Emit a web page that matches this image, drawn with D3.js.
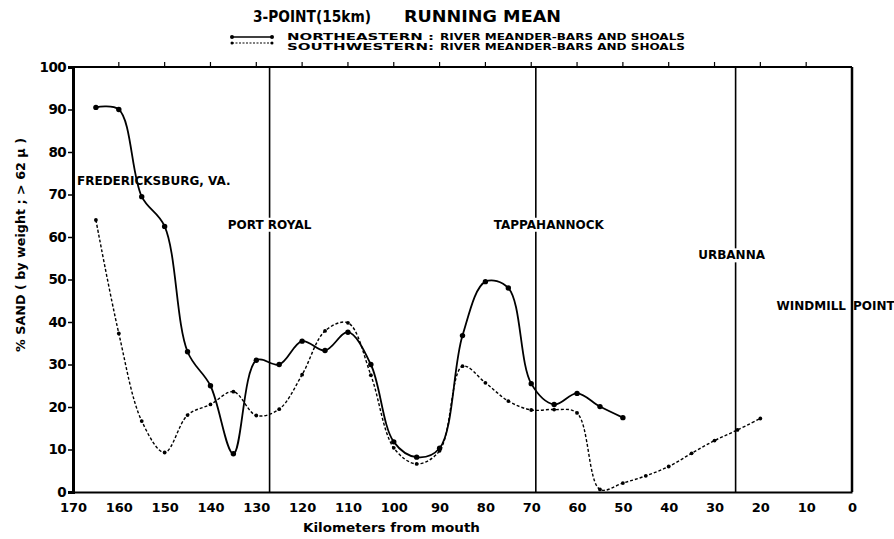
<!DOCTYPE html>
<html>
<head>
<meta charset="utf-8">
<script src="https://cdn.jsdelivr.net/npm/d3@7"></script>
<style>
  body { margin: 0; background: #fff; }
  svg { display: block; font-family: "DejaVu Sans", sans-serif; font-weight: bold; }
</style>
</head>
<body>
<div id="chart"></div>
<script>
// distance from mouth (km) and % sand
const neKm   = [165, 160, 155, 150, 145, 140, 135, 130, 125, 120, 115, 110, 105, 100, 95, 90, 85, 80, 75, 70, 65, 60, 55, 50];
const neSand = [90.5, 90, 69.5, 62.5, 33, 25, 9, 31, 30, 35.5, 33.3, 37.6, 30, 11.8, 8.2, 10.3, 36.8, 49.5, 48, 25.5, 20.6, 23.2, 20.1, 17.5];

const swKm   = [165, 160, 155, 150, 145, 140, 135, 130, 125, 120, 115, 110, 105, 100, 95, 90, 85, 80, 75, 70, 65, 60, 55, 50, 45, 40, 35, 30, 25, 20];
const swSand = [64, 37.3, 16.7, 9.3, 18.1, 20.6, 23.6, 18, 19.5, 27.6, 37.9, 39.8, 27.5, 10.4, 6.6, 9.7, 29.6, 25.7, 21.4, 19.3, 19.4, 18.6, 0.6, 2.1, 3.8, 6, 9.1, 12.1, 14.6, 17.3];

const places     = ["FREDERICKSBURG, VA.", "PORT ROYAL", "TAPPAHANNOCK", "URBANNA", "WINDMILL POINT"];
const placeKm    = [170, 127.1, 69, 25.4, 0];
const placeLabelY = [73.2, 63, 63, 55.8, 43.8];

const xTicks = [170, 160, 150, 140, 130, 120, 110, 100, 90, 80, 70, 60, 50, 40, 30, 20, 10, 0];
const yTicks = [0, 10, 20, 30, 40, 50, 60, 70, 80, 90, 100];

const legendNames = ["NORTHEASTERN :", "SOUTHWESTERN:"];
const legendText  = "RIVER MEANDER-BARS AND SHOALS";

const W = 894, H = 539;
const svg = d3.select('#chart').append('svg')
    .attr('width', W).attr('height', H);

const x = d3.scaleLinear().domain([170, 0]).range([73, 852]);
const y = d3.scaleLinear().domain([0, 100]).range([492, 67]);

// title
svg.append('text').attr('x', 253).attr('y', 21.5).attr('font-size', 15.5)
    .attr('textLength', 118).attr('lengthAdjust', 'spacingAndGlyphs')
    .text('3-POINT(15km)');
svg.append('text').attr('x', 404).attr('y', 21.5).attr('font-size', 15.5)
    .attr('textLength', 157).attr('lengthAdjust', 'spacingAndGlyphs')
    .text('RUNNING MEAN');

// legend (samples sit a little above the text rows, as in the original)
const legLineY = [37, 43];
const legTextY = [40, 49.5];
legLineY.forEach((ly, i) => {
  svg.append('line').attr('x1', 232).attr('x2', 272).attr('y1', ly).attr('y2', ly)
      .attr('stroke', '#000').attr('stroke-width', i ? 1.2 : 1.5)
      .attr('stroke-dasharray', i ? '2,1.5' : null);
  [232, 272].forEach(cx => svg.append('circle').attr('cx', cx).attr('cy', ly)
      .attr('r', i ? 1.5 : 2).attr('fill', '#000'));
  svg.append('text').attr('x', 434).attr('y', legTextY[i]).attr('font-size', 8)
      .attr('text-anchor', 'end')
      .attr('textLength', 147).attr('lengthAdjust', 'spacingAndGlyphs')
      .text(legendNames[i]);
  svg.append('text').attr('x', 440).attr('y', legTextY[i]).attr('font-size', 8)
      .attr('textLength', 245).attr('lengthAdjust', 'spacingAndGlyphs')
      .text(legendText);
});

// frame: top line with ticks upward
svg.append('line').attr('x1', 70).attr('x2', x(0)).attr('y1', y(100)).attr('y2', y(100))
    .attr('stroke', '#000').attr('stroke-width', 1.8);
svg.selectAll('line.toptick').data(xTicks.filter(d => d > 0 && d < 170)).join('line')
    .classed('toptick', true)
    .attr('x1', d => x(d)).attr('x2', d => x(d))
    .attr('y1', y(100)).attr('y2', y(100) - 5)
    .attr('stroke', '#000').attr('stroke-width', 1.2);

// bottom axis
const xAxis = svg.append('g').attr('transform', `translate(0,${y(0)})`)
    .call(d3.axisBottom(x).tickValues(xTicks).tickSize(0).tickPadding(11).tickFormat(d3.format('d')));
xAxis.select('.domain').attr('stroke-width', 1.8);
xAxis.selectAll('text').attr('font-size', 13).attr('font-family', '"DejaVu Sans", sans-serif')
    .attr('font-weight', 'bold').attr('fill', '#000');

// left axis
const yAxis = svg.append('g').attr('transform', `translate(${x(170)},0)`)
    .call(d3.axisLeft(y).tickValues(yTicks).tickSize(5).tickPadding(2).tickFormat(d3.format('d')));
yAxis.select('.domain').attr('stroke-width', 3);
yAxis.selectAll('.tick line').attr('stroke-width', 1.5);
yAxis.selectAll('text').attr('font-size', 13.5).attr('font-family', '"DejaVu Sans", sans-serif')
    .attr('font-weight', 'bold').attr('fill', '#000').attr('letter-spacing', -0.6);

// axis titles
svg.append('text').attr('x', (303 + 480) / 2).attr('y', 532).attr('text-anchor', 'middle')
    .attr('font-size', 11.5).attr('textLength', 177).attr('lengthAdjust', 'spacingAndGlyphs')
    .text('Kilometers  from  mouth');
svg.append('text').attr('transform', `translate(25,${245}) rotate(-90)`)
    .attr('text-anchor', 'middle').attr('font-size', 11.5)
    .attr('textLength', 214).attr('lengthAdjust', 'spacingAndGlyphs')
    .text('%  SAND    ( by weight ; > 62 µ )');

// place lines
svg.selectAll('line.place').data(placeKm.filter(d => d < 170)).join('line')
    .classed('place', true)
    .attr('x1', d => x(d)).attr('x2', d => x(d))
    .attr('y1', y(100)).attr('y2', y(0))
    .attr('stroke', '#000').attr('stroke-width', d => d === 0 ? 2.5 : 1.6);

// place labels
const labelDx = [4, 0, 13, -4, 0];
const labelAnchor = ['start', 'middle', 'middle', 'middle', 'start'];
places.forEach((name, i) => {
  const g = svg.append('g');
  const lx = x(placeKm[i]) + labelDx[i];
  const ly = y(placeLabelY[i]) + 4.5;
  if (i === 4) {
    g.append('text').attr('x', lx - 6).attr('y', ly).attr('font-size', 12)
        .attr('text-anchor', 'end').text('WINDMILL');
    g.append('text').attr('x', lx + 1).attr('y', ly).attr('font-size', 12)
        .text('POINT');
    return;
  }
  const t = g.append('text').attr('x', lx).attr('y', ly).attr('font-size', 12)
      .attr('text-anchor', labelAnchor[i]).text(name);
  const bb = t.node().getBBox();
  g.insert('rect', 'text').attr('x', bb.x - 2).attr('y', bb.y).attr('width', bb.width + 4)
      .attr('height', bb.height).attr('fill', '#fff');
});

// series
const ne = neKm.map((k, i) => ({ km: k, v: neSand[i] }));
const sw = swKm.map((k, i) => ({ km: k, v: swSand[i] }));
const line = d3.line().x(d => x(d.km)).y(d => y(d.v)).curve(d3.curveCatmullRom.alpha(0.5));

svg.append('path').datum(sw).attr('d', line).attr('fill', 'none')
    .attr('stroke', '#000').attr('stroke-width', 1.4).attr('stroke-dasharray', '3,2');
svg.selectAll('circle.sw').data(sw).join('circle').classed('sw', true)
    .attr('cx', d => x(d.km)).attr('cy', d => y(d.v)).attr('r', 1.9).attr('fill', '#000');

svg.append('path').datum(ne).attr('d', line).attr('fill', 'none')
    .attr('stroke', '#000').attr('stroke-width', 1.8);
svg.selectAll('circle.ne').data(ne).join('circle').classed('ne', true)
    .attr('cx', d => x(d.km)).attr('cy', d => y(d.v)).attr('r', 2.7).attr('fill', '#000');
</script>
</body>
</html>
